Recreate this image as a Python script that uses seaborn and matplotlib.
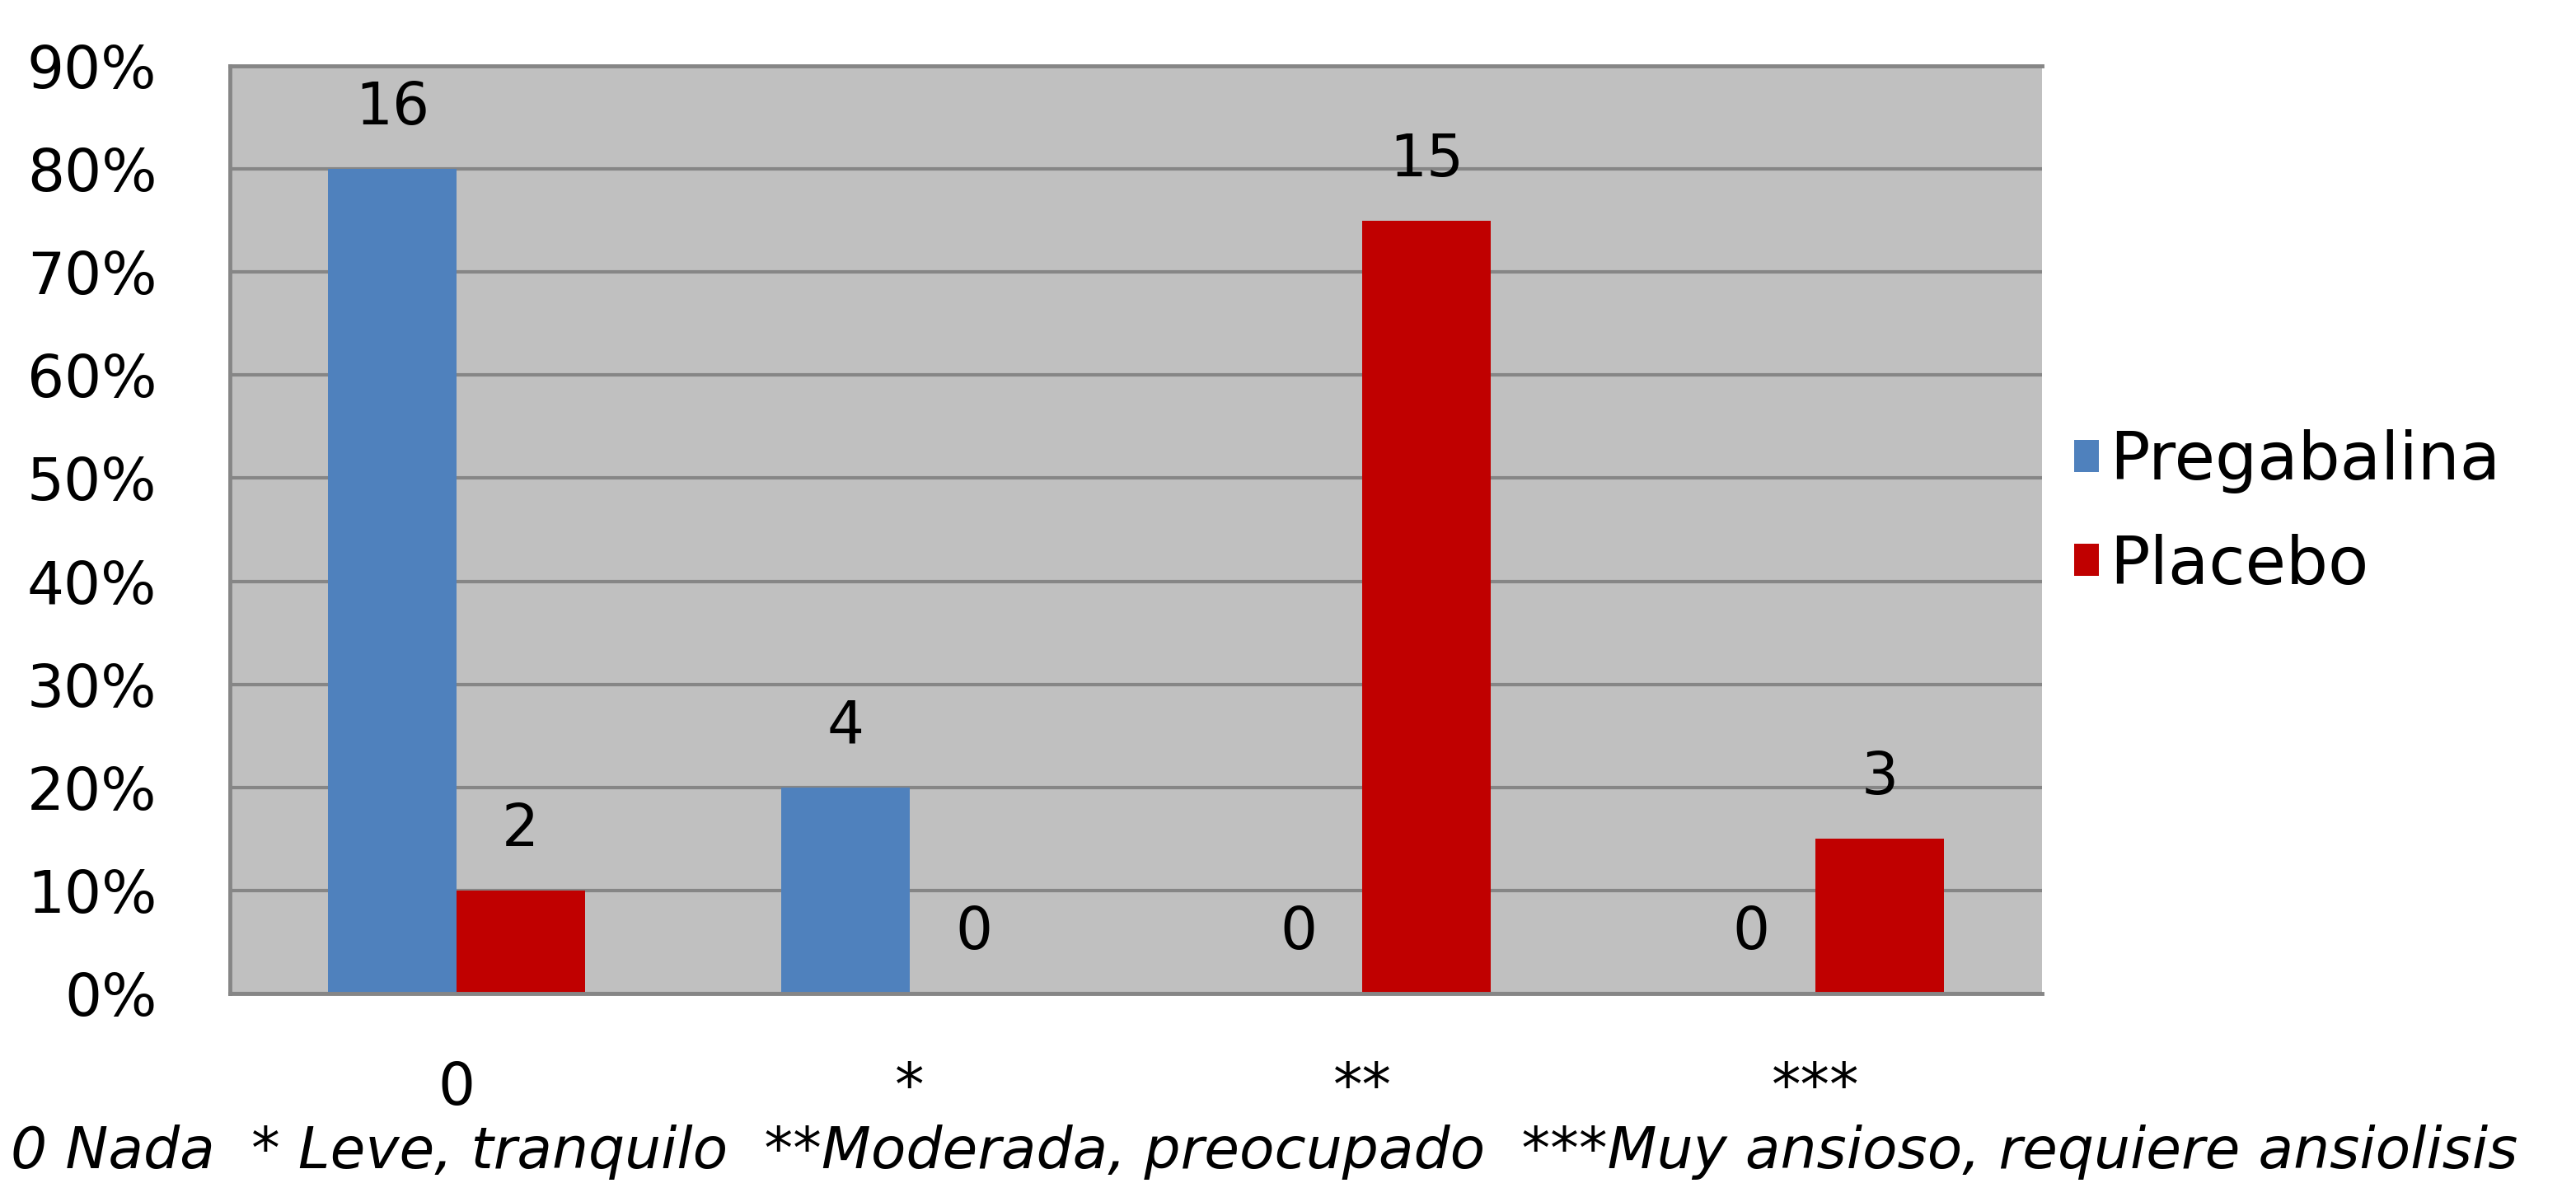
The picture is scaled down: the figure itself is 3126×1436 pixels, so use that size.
import matplotlib
matplotlib.use("Agg")
import matplotlib.pyplot as plt
import pandas as pd
import seaborn as sns
from matplotlib.ticker import PercentFormatter, MultipleLocator

# data
categories = ["0", "*", "**", "***"]
pregabalina_pct = [0.80, 0.20, 0.0, 0.0]
placebo_pct = [0.10, 0.0, 0.75, 0.15]
pregabalina_n = [16, 4, 0, 0]
placebo_n = [2, 0, 15, 3]
groups = ["Pregabalina", "Placebo"]
footnote = "0 Nada  * Leve, tranquilo  **Moderada, preocupado  ***Muy ansioso, requiere ansiolisis"

df = pd.DataFrame({
    "escala": categories * 2,
    "pct": pregabalina_pct + placebo_pct,
    "grupo": [groups[0]] * 4 + [groups[1]] * 4,
})

sns.set_theme(style="white")
plt.rcParams["font.family"] = ["DejaVu Sans"]
plt.rcParams["text.color"] = "black"

GRID = "#868686"
fig = plt.figure(figsize=(31.26, 14.36), dpi=100)
ax = fig.add_axes([0.0893, 0.1602, 0.7034, 0.7841])
ax.set_facecolor("#C0C0C0")

sns.barplot(data=df, x="escala", y="pct", hue="grupo", order=categories,
            hue_order=groups, palette=["#4F81BD", "#C00000"], width=0.566,
            saturation=1, linewidth=0, ax=ax, legend=True)

ax.set_ylim(0, 0.9)
ax.yaxis.set_major_locator(MultipleLocator(0.1))
ax.yaxis.set_major_formatter(PercentFormatter(1.0, decimals=0))
ax.set_xlim(-0.5, 3.5)
ax.set_xlabel("")
ax.set_ylabel("")
ax.yaxis.grid(True, color=GRID, lw=3)
ax.set_axisbelow(True)
for side in ["left", "bottom", "top"]:
    ax.spines[side].set_color(GRID)
    ax.spines[side].set_linewidth(3.5)
ax.spines["right"].set_visible(False)
ax.tick_params(axis="y", length=0, pad=64, labelsize=51, colors="black")
ax.tick_params(axis="x", length=0, pad=58, labelsize=51, colors="black")

for cont, counts in zip(ax.containers, [pregabalina_n, placebo_n]):
    ax.bar_label(cont, labels=[str(c) for c in counts], padding=28, fontsize=51,
                 color="black")

handles, labels = ax.get_legend_handles_labels()
ax.get_legend().remove()
fig.legend(handles, labels, loc="center left", bbox_to_anchor=(0.782, 0.566),
           frameon=False, fontsize=58, handlelength=0.37, handleheight=0.37,
           handletextpad=0.17, labelspacing=0.6)

fig.text(0.004, 0.026, footnote, fontsize=50, style="italic", va="center", ha="left")

fig.savefig("out.png", dpi=100)
